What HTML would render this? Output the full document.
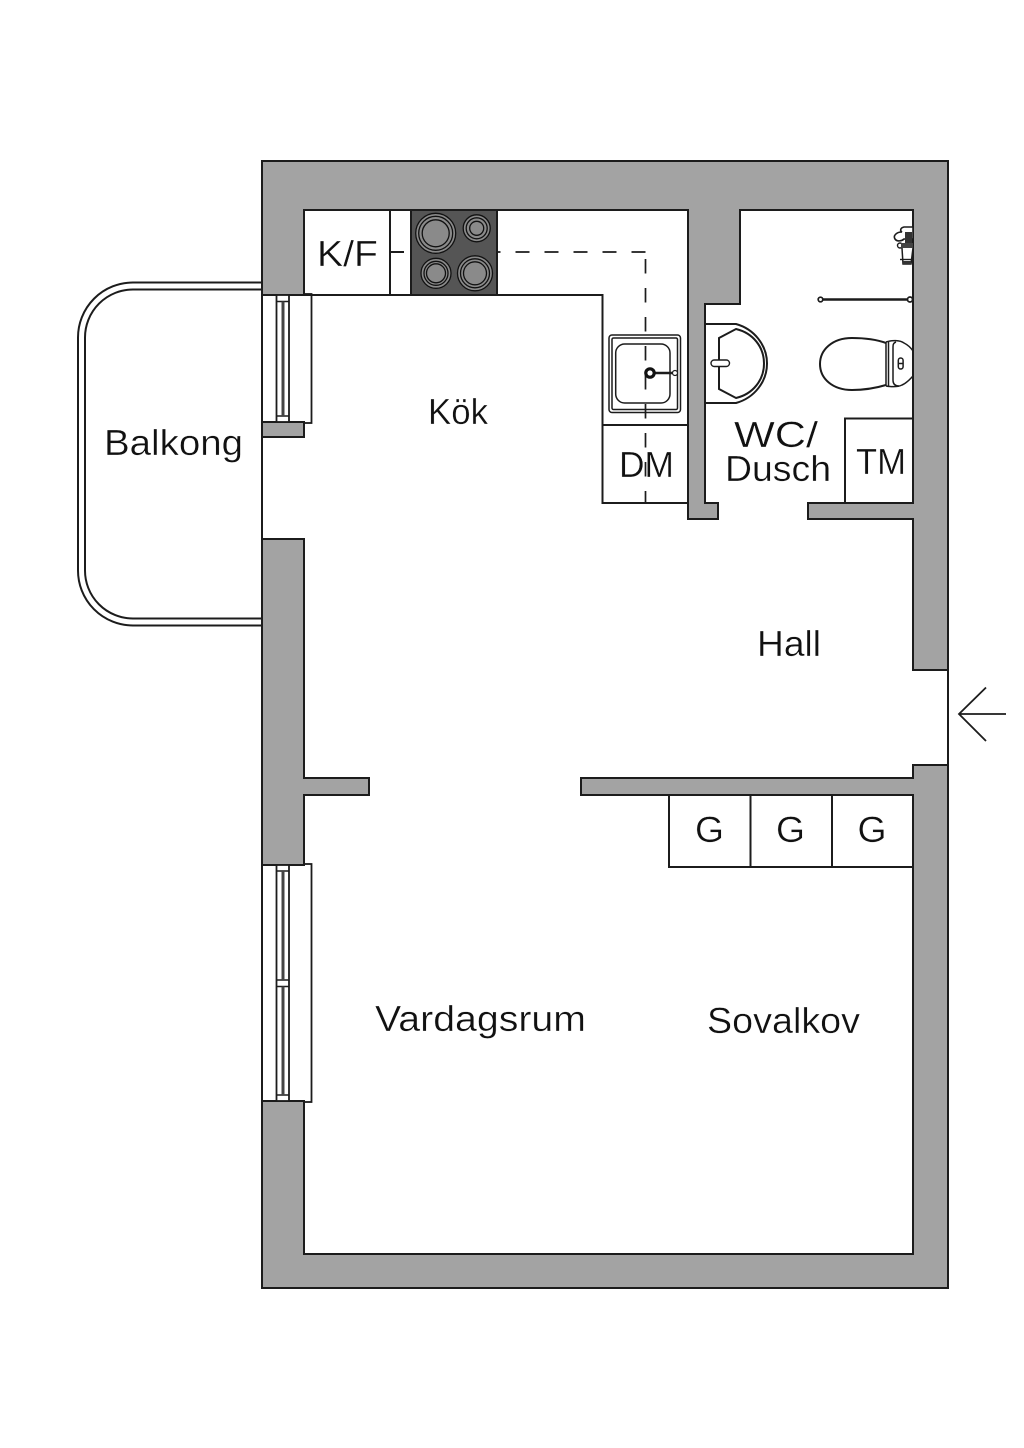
<!DOCTYPE html>
<html>
<head>
<meta charset="utf-8">
<style>
html,body{margin:0;padding:0;background:#fff}
svg{display:block}
text{font-family:"Liberation Sans",sans-serif;font-size:36px;fill:#111;stroke:#fff;stroke-width:.35;paint-order:normal}
.w{fill:#a3a3a3;stroke:#1c1c1c;stroke-width:2;stroke-linejoin:miter}
.l{fill:none;stroke:#1c1c1c;stroke-width:2}
.t{fill:none;stroke:#1c1c1c;stroke-width:1.5}
.f{fill:#fff;stroke:#1c1c1c;stroke-width:1.8}
</style>
</head>
<body>
<svg width="1024" height="1448" viewBox="0 0 1024 1448" xmlns="http://www.w3.org/2000/svg">
<rect width="1024" height="1448" fill="#fff"/>

<!-- Balcony -->
<path class="l" d="M262 282.500H133A55 55 0 0 0 78 337.500V570A55 55 0 0 0 133 625.500H262"/>
<path class="l" d="M262 289.500H133A48 48 0 0 0 85 337.500V570A48 48 0 0 0 133 618.500H262"/>

<!-- Window extensions -->
<rect class="f" x="262" y="294" width="49.500" height="129"/>
<rect class="f" x="262" y="864" width="49.500" height="238"/>

<!-- Walls -->
<path class="w" d="M262 161H948V670H913V519H808V503H913V210H740V304H705V503H718V519H688V210H304V295H262Z"/>
<path class="w" d="M262 539H304V778H369V795H304V865H262Z"/>
<path class="w" d="M262 422H304V437H262Z"/>
<path class="w" d="M262 1101H304V1254H913V795H581V778H913V765H948V1288H262Z"/>

<!-- Open wall lines -->
<path class="l" d="M262 295V539M948 670V765M262 865V1101"/>

<!-- Window 1 -->
<rect class="f" x="276.500" y="295" width="12.500" height="127" stroke-width="1.500"/>
<path class="t" d="M276.500 301.500H289M276.500 416H289"/>
<path d="M283 301.500V416" stroke="#444" stroke-width="3" fill="none"/>

<!-- Window 2 -->
<rect class="f" x="276.500" y="865" width="12.500" height="236" stroke-width="1.500"/>
<path class="t" d="M276.500 871H289M276.500 980H289M276.500 986.500H289M276.500 1095H289"/>
<path d="M283 871V980M283 986.500V1095" stroke="#444" stroke-width="3" fill="none"/>

<!-- Kitchen counter -->
<path class="l" d="M304 295H602.500V503H688M602.500 425H688M390 210V295"/>
<path class="l" d="M391 252H404"/>
<rect x="411" y="210" width="86" height="85" fill="#555" stroke="#1c1c1c" stroke-width="2"/>
<g stroke="#111" stroke-width="1.300">
<circle cx="435.700" cy="233.300" r="20" fill="#8a8a8a"/>
<circle cx="435.700" cy="233.300" r="17" fill="#8a8a8a"/>
<circle cx="435.700" cy="233.300" r="13.500" fill="#8a8a8a"/>
<circle cx="476.700" cy="228.300" r="13.500" fill="#8a8a8a"/>
<circle cx="476.700" cy="228.300" r="10.500" fill="#8a8a8a"/>
<circle cx="476.700" cy="228.300" r="7" fill="#8a8a8a"/>
<circle cx="436" cy="273.300" r="15" fill="#8a8a8a"/>
<circle cx="436" cy="273.300" r="12" fill="#8a8a8a"/>
<circle cx="436" cy="273.300" r="9.500" fill="#8a8a8a"/>
<circle cx="475" cy="273.300" r="17.500" fill="#8a8a8a"/>
<circle cx="475" cy="273.300" r="14.500" fill="#8a8a8a"/>
<circle cx="475" cy="273.300" r="11.500" fill="#8a8a8a"/>
</g>

<!-- Sink -->
<rect x="609" y="335" width="71.500" height="77.500" rx="3" fill="#fff" stroke="#1c1c1c" stroke-width="1.500"/>
<rect x="612" y="338" width="65.500" height="71.500" rx="1.500" fill="none" stroke="#1c1c1c" stroke-width="1.500"/>
<rect x="615.700" y="344" width="54.300" height="59" rx="9" fill="none" stroke="#1c1c1c" stroke-width="1.500"/>

<!-- Dashed -->
<path d="M645.500 252H497" fill="none" stroke="#1c1c1c" stroke-width="1.700" stroke-dasharray="14 15"/>
<path d="M645.500 259V503" fill="none" stroke="#1c1c1c" stroke-width="1.700" stroke-dasharray="14.500 14.500"/>

<!-- Faucet -->
<path d="M650 373H674" stroke="#1c1c1c" stroke-width="2.500" fill="none"/>
<circle cx="675" cy="373" r="2.500" fill="#fff" stroke="#1c1c1c" stroke-width="1.200"/>
<circle cx="650" cy="373" r="4.200" fill="#fff" stroke="#111" stroke-width="3.200"/>

<!-- Basin -->
<path class="l" d="M705 324H736C754 329 767 345 767 363.500C767 382 754 398 736 403H705" stroke-width="1.700"/>
<path class="l" d="M719 338L736 329C753 333 764 347 764 363.500C764 380 753 394 736 398L719 389Z" stroke-width="1.500"/>
<rect x="711" y="360" width="18.500" height="6.500" rx="3.200" fill="#fff" stroke="#1c1c1c" stroke-width="1.400"/>

<!-- Toilet -->
<path class="l" d="M886 343C875 339 862 338 852 338C832 338 820 350 820 364C820 379 833 390 852 390C864 390 876 388 886 385" stroke-width="1.700"/>
<path class="t" d="M886 342V386M888.500 342V386"/>
<path class="t" d="M886 342C892 340 900 340 904 343C908 345 911 348 913 351M886 386C892 387 898 387 902 385C907 383 910 379 913 376"/>
<path class="t" d="M896 342C893 343 893 345 893 348V380C893 384 895 386 899 386"/>
<rect x="898.300" y="358" width="4.800" height="11" rx="2.400" fill="none" stroke="#1c1c1c" stroke-width="1.500"/>
<path class="t" d="M898.300 363.500H903"/>

<!-- Towel bar -->
<path d="M821 299.500H910" stroke="#1c1c1c" stroke-width="2.400" fill="none"/>
<circle cx="820.500" cy="299.500" r="2.300" fill="#fff" stroke="#1c1c1c" stroke-width="1.700"/>
<circle cx="910" cy="299.500" r="2.500" fill="#fff" stroke="#1c1c1c" stroke-width="1.700"/>

<!-- Shower -->
<path d="M913 227H904C900 228 900 231 902 232C896 232 893 236 895 239C897 242 902 241 904 239H913Z" fill="#fff" stroke="#1c1c1c" stroke-width="1.600"/>
<path d="M905 232H912V243H905Z" fill="#333"/>
<circle cx="900" cy="245.500" r="2.500" fill="#fff" stroke="#1c1c1c" stroke-width="1.400"/>
<path d="M901 243H913V248H901Z" fill="#444"/>
<path d="M902 248L903 264H911L913 248" fill="#fff" stroke="#1c1c1c" stroke-width="1.500"/>
<path d="M900 259.500H913" stroke="#1c1c1c" stroke-width="1.400"/>
<path d="M903 261H911V264H903Z" fill="#333"/>

<!-- TM box -->
<path class="l" d="M845 503V418.500H913"/>

<!-- Wardrobes -->
<path class="l" d="M669 795V867H913M750.500 795V867M832 795V867"/>

<!-- Arrow -->
<path d="M1006 714H959M986 687.500L959 714L986 741" fill="none" stroke="#1c1c1c" stroke-width="1.800"/>

<!-- Labels -->
<text x="104" y="455" textLength="139" lengthAdjust="spacingAndGlyphs">Balkong</text>
<text x="317" y="266" textLength="61" lengthAdjust="spacingAndGlyphs">K/F</text>
<text x="428" y="424" textLength="60" lengthAdjust="spacingAndGlyphs">Kök</text>
<text x="619" y="477" textLength="55" lengthAdjust="spacingAndGlyphs">DM</text>
<text x="734" y="447" textLength="84" lengthAdjust="spacingAndGlyphs">WC/</text>
<text x="725" y="481" textLength="106" lengthAdjust="spacingAndGlyphs">Dusch</text>
<text x="856" y="474" textLength="50" lengthAdjust="spacingAndGlyphs">TM</text>
<text x="757" y="656" textLength="64" lengthAdjust="spacingAndGlyphs">Hall</text>
<text x="695" y="842" textLength="29" lengthAdjust="spacingAndGlyphs">G</text>
<text x="776" y="842" textLength="29" lengthAdjust="spacingAndGlyphs">G</text>
<text x="857.500" y="842" textLength="29" lengthAdjust="spacingAndGlyphs">G</text>
<text x="375" y="1031" textLength="211" lengthAdjust="spacingAndGlyphs">Vardagsrum</text>
<text x="707" y="1033" textLength="153" lengthAdjust="spacingAndGlyphs">Sovalkov</text>
</svg>
</body>
</html>
